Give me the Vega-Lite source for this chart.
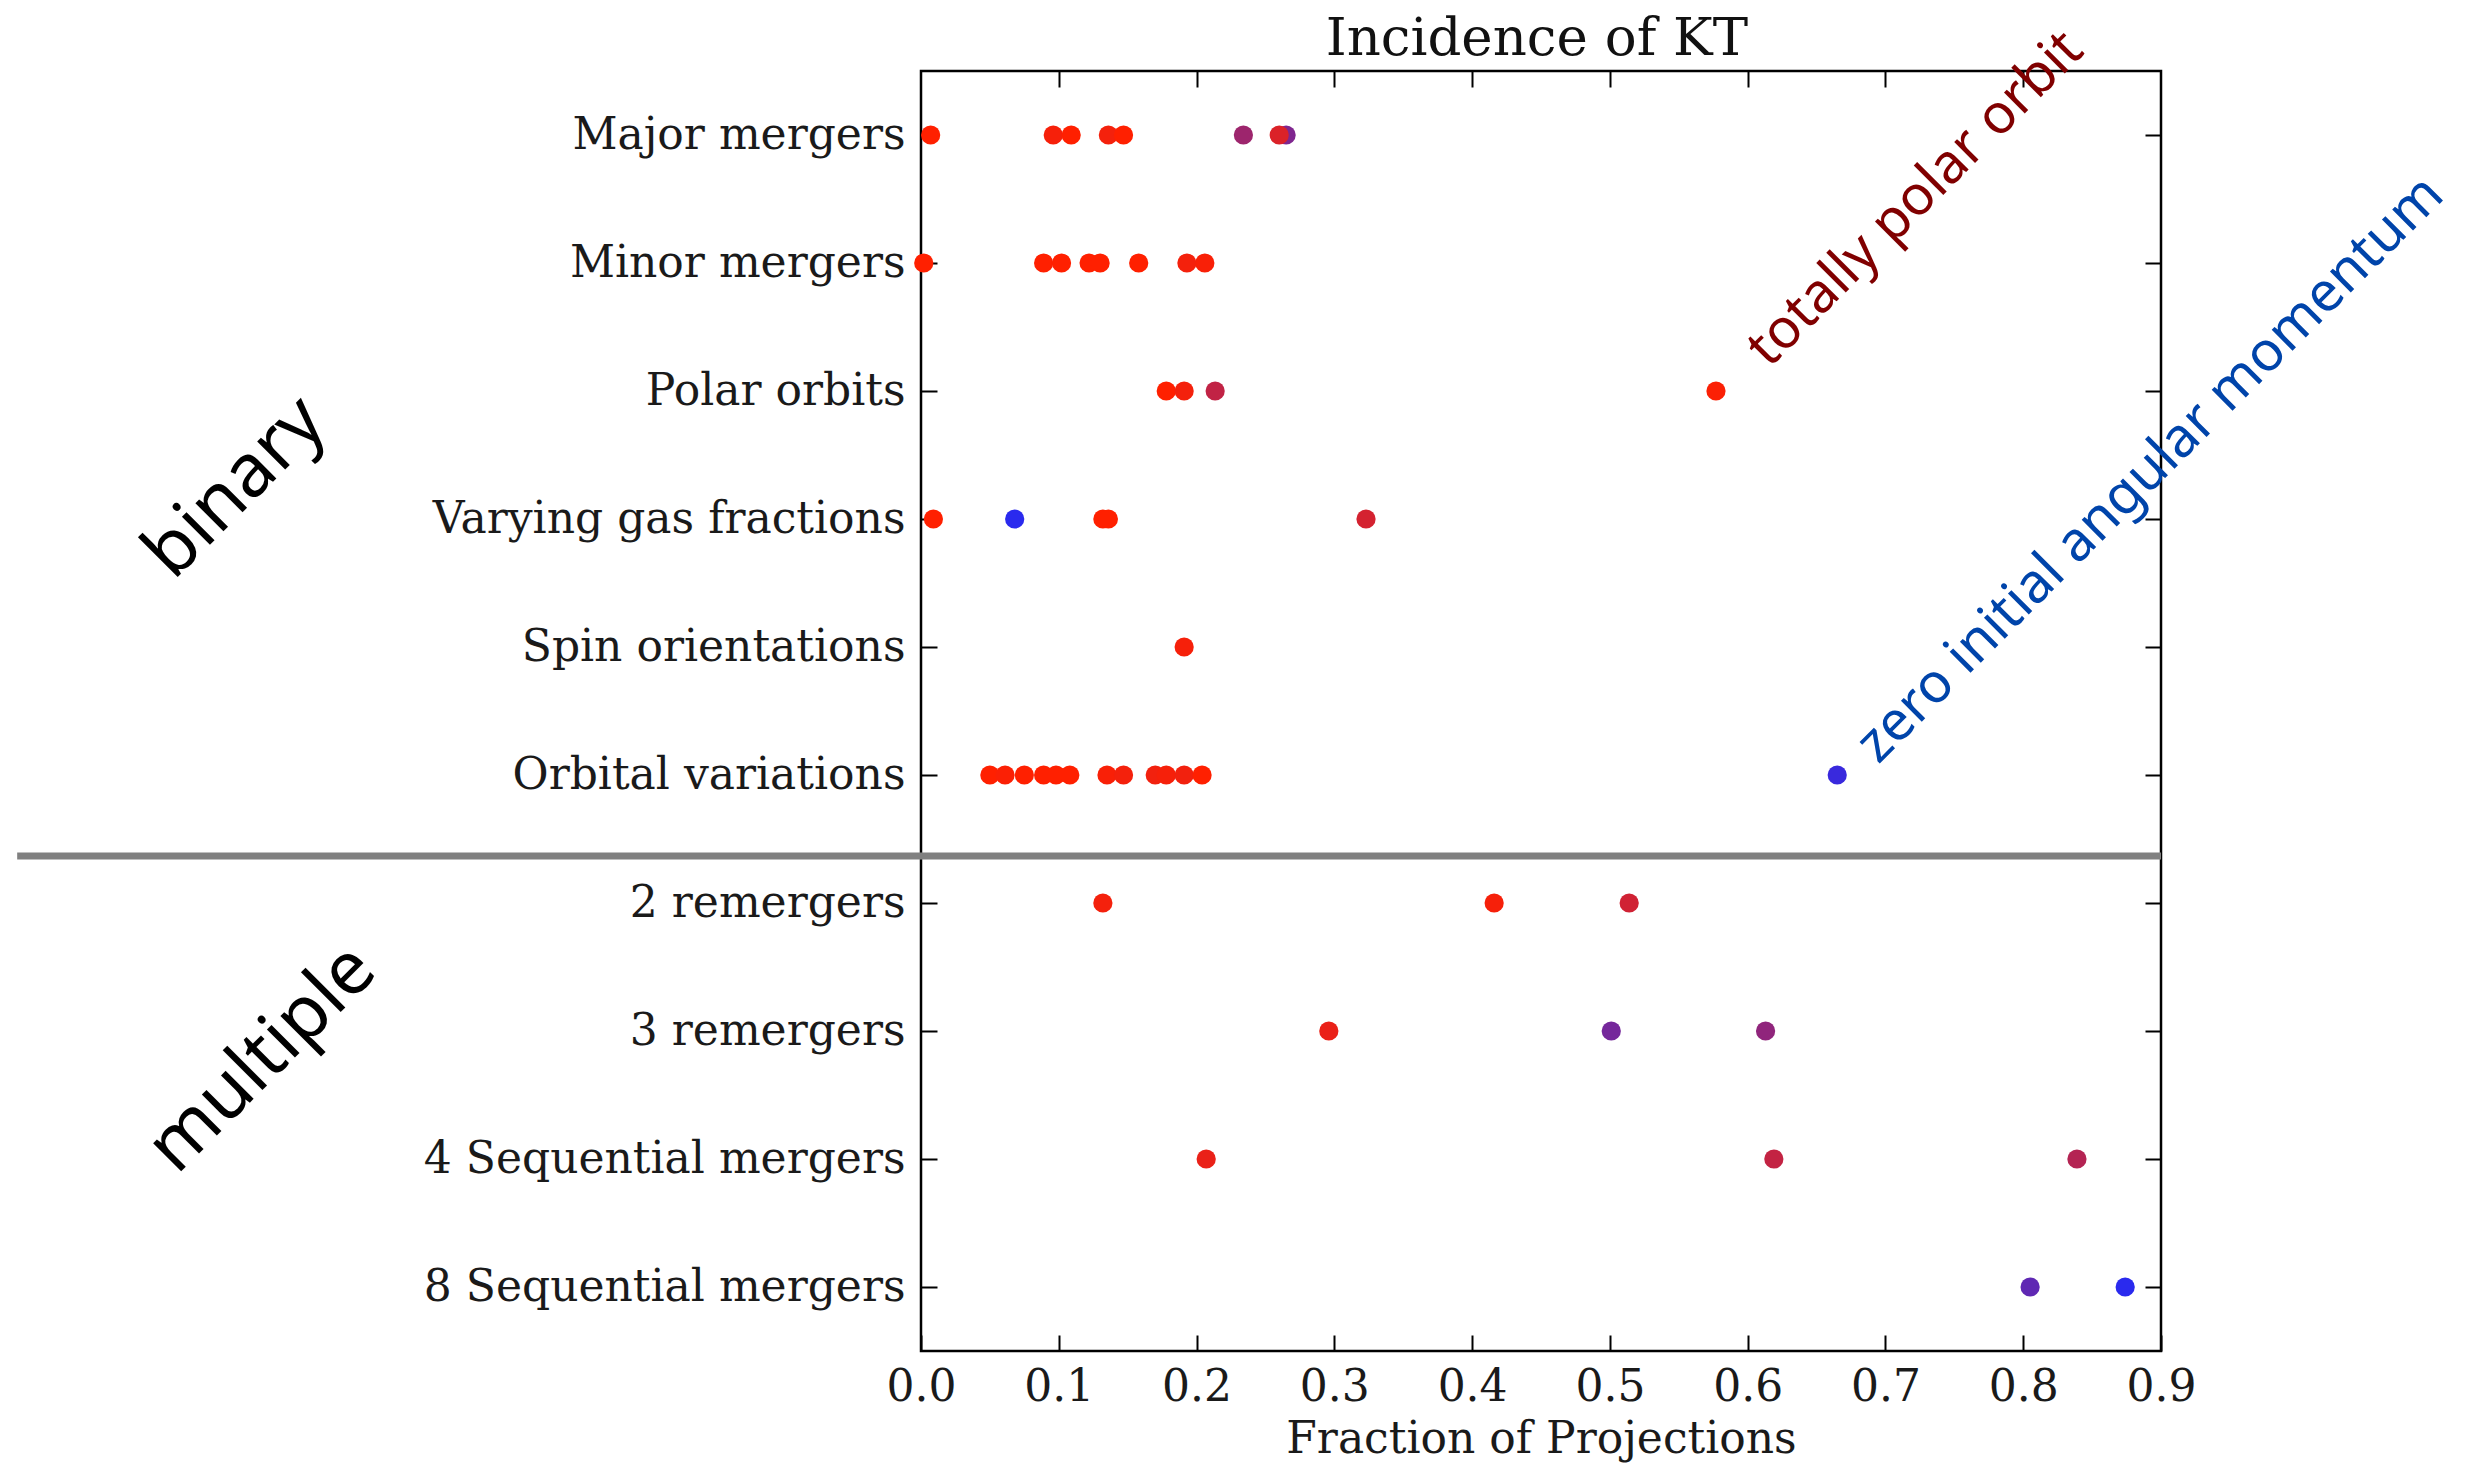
{
  "$schema": "https://vega.github.io/schema/vega-lite/v6.json",
  "width": 1240,
  "height": 1280,
  "autosize": "none",
  "padding": {"left": 921, "top": 71, "right": 307, "bottom": 112},
  "background": "white",
  "config": {
    "view": {"stroke": "#000000", "strokeWidth": 2.5},
    "axis": {"grid": false, "domain": false, "tickColor": "#000000", "tickWidth": 2, "tickSize": -16, "labelFont": "DejaVu Serif", "labelFontSize": 44, "labelColor": "#1a1a1a", "labelLimit": 0, "titleFont": "DejaVu Serif", "titleFontSize": 44, "titleFontWeight": "normal", "titleColor": "#1a1a1a"}
  },
  "datasets": {
    "points": [
      {"category": "Major mergers", "fraction": 0.007, "blueness": 0.0},
      {"category": "Major mergers", "fraction": 0.096, "blueness": 0.04},
      {"category": "Major mergers", "fraction": 0.109, "blueness": 0.0},
      {"category": "Major mergers", "fraction": 0.136, "blueness": 0.05},
      {"category": "Major mergers", "fraction": 0.147, "blueness": 0.0},
      {"category": "Major mergers", "fraction": 0.234, "blueness": 0.46},
      {"category": "Major mergers", "fraction": 0.265, "blueness": 0.6},
      {"category": "Major mergers", "fraction": 0.260, "blueness": 0.17},
      {"category": "Minor mergers", "fraction": 0.002, "blueness": 0.0},
      {"category": "Minor mergers", "fraction": 0.089, "blueness": 0.0},
      {"category": "Minor mergers", "fraction": 0.102, "blueness": 0.0},
      {"category": "Minor mergers", "fraction": 0.122, "blueness": 0.0},
      {"category": "Minor mergers", "fraction": 0.130, "blueness": 0.0},
      {"category": "Minor mergers", "fraction": 0.158, "blueness": 0.0},
      {"category": "Minor mergers", "fraction": 0.193, "blueness": 0.05},
      {"category": "Minor mergers", "fraction": 0.206, "blueness": 0.03},
      {"category": "Polar orbits", "fraction": 0.178, "blueness": 0.0},
      {"category": "Polar orbits", "fraction": 0.191, "blueness": 0.05},
      {"category": "Polar orbits", "fraction": 0.2135, "blueness": 0.29},
      {"category": "Polar orbits", "fraction": 0.577, "blueness": 0.02},
      {"category": "Varying gas fractions", "fraction": 0.009, "blueness": 0.0},
      {"category": "Varying gas fractions", "fraction": 0.068, "blueness": 1.0},
      {"category": "Varying gas fractions", "fraction": 0.132, "blueness": 0.0},
      {"category": "Varying gas fractions", "fraction": 0.136, "blueness": 0.0},
      {"category": "Varying gas fractions", "fraction": 0.323, "blueness": 0.2},
      {"category": "Spin orientations", "fraction": 0.191, "blueness": 0.04},
      {"category": "Orbital variations", "fraction": 0.050, "blueness": 0.0},
      {"category": "Orbital variations", "fraction": 0.061, "blueness": 0.02},
      {"category": "Orbital variations", "fraction": 0.075, "blueness": 0.0},
      {"category": "Orbital variations", "fraction": 0.089, "blueness": 0.0},
      {"category": "Orbital variations", "fraction": 0.098, "blueness": 0.0},
      {"category": "Orbital variations", "fraction": 0.108, "blueness": 0.0},
      {"category": "Orbital variations", "fraction": 0.135, "blueness": 0.03},
      {"category": "Orbital variations", "fraction": 0.147, "blueness": 0.05},
      {"category": "Orbital variations", "fraction": 0.170, "blueness": 0.06},
      {"category": "Orbital variations", "fraction": 0.178, "blueness": 0.04},
      {"category": "Orbital variations", "fraction": 0.191, "blueness": 0.06},
      {"category": "Orbital variations", "fraction": 0.204, "blueness": 0.0},
      {"category": "Orbital variations", "fraction": 0.665, "blueness": 0.93},
      {"category": "2 remergers", "fraction": 0.132, "blueness": 0.05},
      {"category": "2 remergers", "fraction": 0.416, "blueness": 0.04},
      {"category": "2 remergers", "fraction": 0.514, "blueness": 0.22},
      {"category": "3 remergers", "fraction": 0.296, "blueness": 0.1},
      {"category": "3 remergers", "fraction": 0.501, "blueness": 0.65},
      {"category": "3 remergers", "fraction": 0.613, "blueness": 0.52},
      {"category": "4 Sequential mergers", "fraction": 0.207, "blueness": 0.1},
      {"category": "4 Sequential mergers", "fraction": 0.619, "blueness": 0.28},
      {"category": "4 Sequential mergers", "fraction": 0.839, "blueness": 0.35},
      {"category": "8 Sequential mergers", "fraction": 0.805, "blueness": 0.75},
      {"category": "8 Sequential mergers", "fraction": 0.874, "blueness": 1.0}
    ]
  },
  "layer": [
    {
      "data": {"name": "points"},
      "mark": {"type": "circle", "size": 370, "opacity": 1},
      "encoding": {
        "x": {"field": "fraction", "type": "quantitative", "scale": {"domain": [0, 0.9], "nice": false, "zero": false},
          "axis": {"orient": "bottom", "values": [0, 0.1, 0.2, 0.3, 0.4, 0.5, 0.6, 0.7, 0.8, 0.9], "format": ".1f", "labelPadding": 30, "labelFlush": false, "labelOverlap": false, "title": "Fraction of Projections", "titlePadding": 8}},
        "y": {"field": "category", "type": "nominal",
          "scale": {"type": "point", "padding": 0.5, "domain": ["Major mergers", "Minor mergers", "Polar orbits", "Varying gas fractions", "Spin orientations", "Orbital variations", "2 remergers", "3 remergers", "4 Sequential mergers", "8 Sequential mergers"]},
          "axis": {"orient": "left", "labelPadding": 32, "title": null}},
        "color": {"field": "blueness", "type": "quantitative", "scale": {"domain": [0, 1], "range": ["#ff2000", "#2a2aee"], "interpolate": "rgb"}, "legend": null}
      }
    },
    {
      "data": {"values": [{}]},
      "mark": {"type": "rule", "color": "#808080", "strokeWidth": 7, "yOffset": 81},
      "encoding": {
        "x": {"datum": -0.656, "type": "quantitative", "axis": {"orient": "top", "values": [0.1, 0.2, 0.3, 0.4, 0.5, 0.6, 0.7, 0.8], "labels": false, "title": null}},
        "x2": {"datum": 0.9},
        "y": {"datum": "Orbital variations", "type": "nominal", "axis": {"orient": "right", "labels": false, "title": null}}
      }
    },
    {
      "data": {"values": [{}]},
      "mark": {"type": "text", "font": "DejaVu Serif", "fontSize": 53, "align": "center", "baseline": "alphabetic", "color": "#111111", "yOffset": -80},
      "encoding": {
        "x": {"datum": 0.447, "type": "quantitative", "axis": null},
        "y": {"datum": "Major mergers", "type": "nominal", "axis": null},
        "text": {"value": "Incidence of KT"}
      }
    },
    {
      "data": {"values": [{}]},
      "mark": {"type": "text", "font": "Noto Sans", "fontSize": 74, "angle": -45, "align": "center", "baseline": "middle", "color": "#000000", "yOffset": -31},
      "encoding": {
        "x": {"datum": -0.4975, "type": "quantitative", "axis": null},
        "y": {"datum": "Varying gas fractions", "type": "nominal", "axis": null},
        "text": {"value": "binary"}
      }
    },
    {
      "data": {"values": [{}]},
      "mark": {"type": "text", "font": "Noto Sans", "fontSize": 74, "angle": -45, "align": "center", "baseline": "middle", "color": "#000000", "yOffset": 28},
      "encoding": {
        "x": {"datum": -0.478, "type": "quantitative", "axis": null},
        "y": {"datum": "3 remergers", "type": "nominal", "axis": null},
        "text": {"value": "multiple"}
      }
    },
    {
      "data": {"values": [{}]},
      "mark": {"type": "text", "font": "Noto Sans", "fontSize": 55, "angle": -45, "align": "left", "baseline": "alphabetic", "color": "#800000", "dx": 53, "dy": 22},
      "encoding": {
        "x": {"datum": 0.577, "type": "quantitative", "axis": null},
        "y": {"datum": "Polar orbits", "type": "nominal", "axis": null},
        "text": {"value": "totally polar orbit"}
      }
    },
    {
      "data": {"values": [{}]},
      "mark": {"type": "text", "font": "Noto Sans", "fontSize": 55, "angle": -45, "align": "left", "baseline": "alphabetic", "color": "#0044aa", "dx": 36, "dy": 22},
      "encoding": {
        "x": {"datum": 0.665, "type": "quantitative", "axis": null},
        "y": {"datum": "Orbital variations", "type": "nominal", "axis": null},
        "text": {"value": "zero initial angular momentum"}
      }
    }
  ],
  "resolve": {"axis": {"x": "independent", "y": "independent"}}
}
